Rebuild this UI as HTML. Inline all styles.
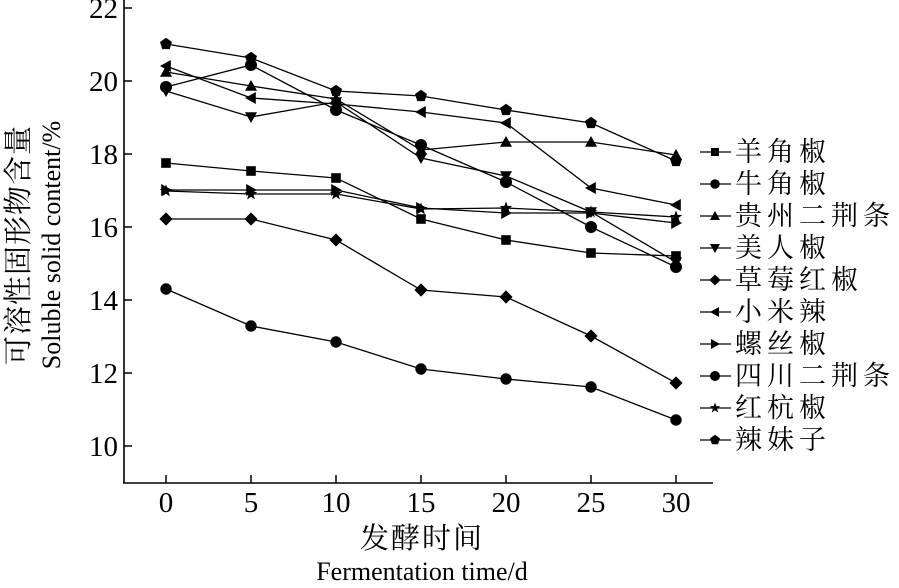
<!DOCTYPE html>
<html><head><meta charset="utf-8"><style>
body{margin:0;background:#fff;}
svg text{font-family:"Liberation Serif","Noto Serif CJK SC",serif;fill:#000;}
</style></head><body>
<svg id="s" width="899" height="583" viewBox="0 0 899 583" xmlns="http://www.w3.org/2000/svg">
<g stroke="#000" stroke-width="1.6" fill="none">
<line x1="124" y1="0" x2="124" y2="483"/>
<line x1="123" y1="483" x2="713" y2="483"/>
</g>
<g id="ticks" stroke="#000" stroke-width="1.5"></g>
<g font-size="29" text-anchor="end">
<text x="118" y="18">22</text><text x="118" y="91">20</text><text x="118" y="164">18</text>
<text x="118" y="237">16</text><text x="118" y="310">14</text><text x="118" y="383">12</text><text x="118" y="456">10</text>
</g>
<g font-size="29" text-anchor="middle">
<text x="166" y="512">0</text><text x="251" y="512">5</text><text x="336" y="512">10</text>
<text x="421" y="512">15</text><text x="506" y="512">20</text><text x="591" y="512">25</text><text x="676" y="512">30</text>
</g>
<text x="422" y="548" font-size="29" text-anchor="middle" letter-spacing="2">发酵时间</text>
<text x="422" y="580" font-size="26" text-anchor="middle">Fermentation time/d</text>
<text transform="translate(28,245) rotate(-90)" font-size="29" text-anchor="middle" letter-spacing="1">可溶性固形物含量</text>
<text transform="translate(60,245) rotate(-90)" font-size="26" text-anchor="middle">Soluble solid content/%</text>
<g id="series"></g>
<g id="leg"></g>
<g font-size="27" letter-spacing="5">
<text x="735" y="161">羊角椒</text>
<text x="735" y="193">牛角椒</text>
<text x="735" y="225">贵州二荆条</text>
<text x="735" y="257">美人椒</text>
<text x="735" y="289">草莓红椒</text>
<text x="735" y="321">小米辣</text>
<text x="735" y="353">螺丝椒</text>
<text x="735" y="385">四川二荆条</text>
<text x="735" y="417">红杭椒</text>
<text x="735" y="449">辣妹子</text>
</g>
</svg>
<script>
var NS="http://www.w3.org/2000/svg";
function el(p,t,a){var e=document.createElementNS(NS,t);for(var k in a)e.setAttribute(k,a[k]);p.appendChild(e);return e;}
var tk=document.getElementById('ticks');
[8,81,154,227,300,373,446].forEach(function(y){el(tk,'line',{x1:124,y1:y,x2:132,y2:y});});
[166,251,336,421,506,591,676].forEach(function(x){el(tk,'line',{x1:x,y1:483,x2:x,y2:475});});
function marker(p,type,x,y,s){
  var r=s;
  switch(type){
    case 'sq': return el(p,'rect',{x:x-r*0.8,y:y-r*0.8,width:r*1.6,height:r*1.6});
    case 'ci': return el(p,'circle',{cx:x,cy:y,r:r*0.95});
    case 'hx': return el(p,'circle',{cx:x,cy:y,r:r});
    case 'up': return el(p,'polygon',{points:(x)+','+(y-r)+' '+(x+r)+','+(y+r*0.8)+' '+(x-r)+','+(y+r*0.8)});
    case 'dn': return el(p,'polygon',{points:(x)+','+(y+r)+' '+(x+r)+','+(y-r*0.8)+' '+(x-r)+','+(y-r*0.8)});
    case 'di': return el(p,'polygon',{points:x+','+(y-r*1.1)+' '+(x+r*1.1)+','+y+' '+x+','+(y+r*1.1)+' '+(x-r*1.1)+','+y});
    case 'lt': return el(p,'polygon',{points:(x-r)+','+y+' '+(x+r*0.8)+','+(y-r)+' '+(x+r*0.8)+','+(y+r)});
    case 'rt': return el(p,'polygon',{points:(x+r)+','+y+' '+(x-r*0.8)+','+(y-r)+' '+(x-r*0.8)+','+(y+r)});
    case 'st': var pts=[];for(var i=0;i<10;i++){var a=-Math.PI/2+i*Math.PI/5,rr=i%2?r*0.45:r*1.1;pts.push((x+rr*Math.cos(a))+','+(y+rr*Math.sin(a)));}return el(p,'polygon',{points:pts.join(' ')});
    case 'pe': var q=[];for(var j=0;j<5;j++){var b=-Math.PI/2+j*2*Math.PI/5;q.push((x+r*1.05*Math.cos(b))+','+(y+r*1.05*Math.sin(b)));}return el(p,'polygon',{points:q.join(' ')});
  }
}
var xs=[166,251,336,421,506,591,676];
var data=[
 ['sq',[163,171,178,219,240,253,256]],
 ['ci',[289,326,342,369,379,387,420]],
 ['up',[72,86,99,150,142,142,155]],
 ['dn',[91,117,102,158,176,212,262]],
 ['di',[219,219,240,290,297,336,383]],
 ['lt',[66,98,104,112,123,188,205]],
 ['rt',[190,190,190,208,213,213,223]],
 ['hx',[87,65,110,145,182,227,267]],
 ['st',[191,194,194,209,208,212,217]],
 ['pe',[44,58,91,96,110,123,161]]
];
var sg=document.getElementById('series');
data.forEach(function(d){
  el(sg,'polyline',{points:xs.map(function(x,i){return x+','+d[1][i];}).join(' '),fill:'none',stroke:'#000','stroke-width':1.3});
  var g=el(sg,'g',{fill:'#000'});
  xs.forEach(function(x,i){marker(g,d[0],x,d[1][i],6);});
});
var lg=document.getElementById('leg');
data.forEach(function(d,i){
  var y=152+32*i;
  el(lg,'line',{x1:700,y1:y,x2:731,y2:y,stroke:'#000','stroke-width':1.3});
  var g=el(lg,'g',{fill:'#000'});marker(g,d[0],715,y,5);
});
</script>
</body></html>
